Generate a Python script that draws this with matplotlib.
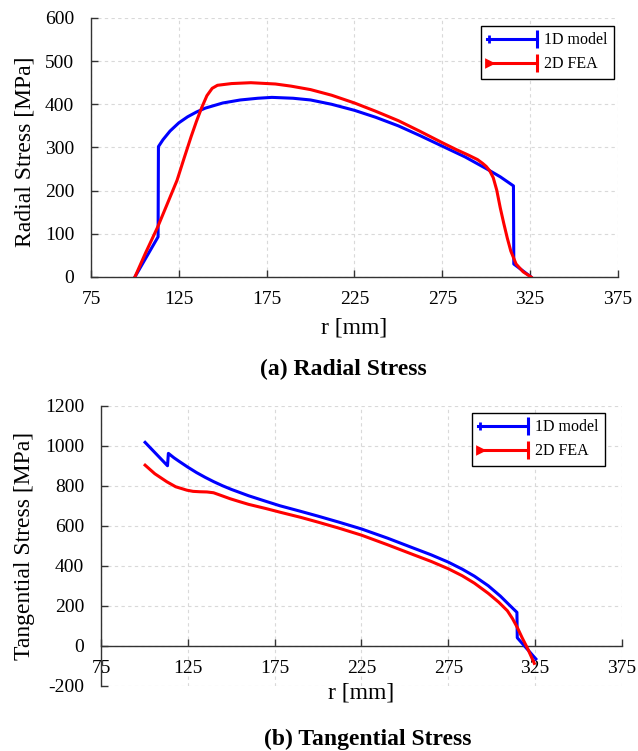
import matplotlib
matplotlib.use('Agg')
import matplotlib.pyplot as plt
from matplotlib.lines import Line2D
from matplotlib.legend_handler import HandlerBase

plt.rcParams['font.family'] = ['Liberation Serif', 'DejaVu Serif']
plt.rcParams['axes.unicode_minus'] = False

# (a) radial stress
r_rad_1d = [100, 113.2, 113.4, 116, 120, 125, 130, 135, 140, 150, 160, 170, 178, 190, 200, 212, 225, 237, 250,
            262, 275, 288, 300, 308, 315.5, 315.7, 325.5]
s_rad_1d = [0, 93, 302, 318, 338, 357, 371, 382, 391, 403, 410, 414, 416, 414, 410, 400, 386, 370, 350,
            328, 303, 278, 251, 232, 211, 30, 0]

r_rad_2d = [100, 106, 113, 118, 124, 128, 132, 135, 138, 141, 144, 147, 155, 166, 180, 189, 200, 212, 225, 237,
            250, 262, 275, 283, 290, 295, 298, 300, 302, 304, 306, 308, 310, 312, 314, 317, 321, 325.5]
s_rad_2d = [0, 55, 116, 165, 224, 275, 325, 360, 392, 420, 437, 444, 448, 450, 447, 442, 434, 421, 403, 384,
            362, 338, 311, 295, 282, 272, 263, 256, 246, 230, 201, 160, 124, 90, 60, 30, 12, 0]

# (b) tangential stress
r_tan_1d = [100.4, 113.3, 113.8, 117, 120, 125, 130, 135, 140, 145, 150, 160, 170, 178, 190, 200, 212, 225, 240,
            255, 265, 275, 283, 290, 298, 305, 310, 314.5, 314.7, 325.4]
s_tan_1d = [1017, 900, 962, 940, 922, 893, 866, 842, 820, 800, 782, 750, 722, 700, 672, 648, 618, 584, 538,
            488, 455, 418, 383, 348, 300, 248, 205, 167, 40, -66]

r_tan_2d = [100.4, 106, 112.9, 118, 124.4, 128, 132, 136, 139.8, 144, 149.4, 155, 160, 170, 178, 190, 200, 212,
            225, 240, 255, 265, 275, 283, 290, 298, 304, 309, 312, 314.8, 317.5, 320.6, 324.5]
s_tan_2d = [903, 860, 820, 795, 778, 772, 770, 769, 765, 752, 735, 720, 707, 686, 668, 642, 618, 588,
            553, 505, 455, 422, 385, 350, 313, 262, 218, 175, 135, 90, 40, -13, -88]

r_ticks = [75, 125, 175, 225, 275, 325, 375]
labels = ['1D model', '2D FEA']
colors = ['#0000ff', '#ff0000']


class CapHandler(HandlerBase):
    def __init__(self, left_marker, left_size):
        super().__init__()
        self.left_marker = left_marker
        self.left_size = left_size

    def create_artists(self, legend, orig_handle, xdescent, ydescent, width, height, fontsize, trans):
        c = orig_handle.get_color()
        y = height / 2 - ydescent
        x0, x1 = -xdescent, width - xdescent
        line = Line2D([x0, x1], [y, y], color=c, lw=2.2)
        left = Line2D([x0 + 1.5], [y], marker=self.left_marker, ms=self.left_size, mew=2.0, color=c)
        right = Line2D([x1], [y], marker='|', ms=13, mew=2.2, color=c)
        for a in (line, left, right):
            a.set_transform(trans)
        return [line, left, right]


def style_axes(ax, ylim, yticks):
    ax.set_xlim(75, 375)
    ax.set_ylim(*ylim)
    ax.set_xticks(r_ticks)
    ax.set_yticks(yticks)
    ax.spines['top'].set_visible(False)
    ax.spines['right'].set_visible(False)
    for s in ('left', 'bottom'):
        ax.spines[s].set_color('#333333')
        ax.spines[s].set_linewidth(1.0)
    ax.tick_params(direction='in', length=5, width=1, color='#333333', labelsize=14)
    ax.tick_params(axis='y', pad=12)
    ax.tick_params(axis='x', pad=10)
    ax.grid(True, linestyle=(0, (3, 3)), color='#d9d9d9', linewidth=0.8)
    ax.set_axisbelow(True)


fig = plt.figure(figsize=(6.38, 7.51), dpi=100)
ax1 = fig.add_axes([0.1426, 0.6312, 0.826, 0.3449])
ax2 = fig.add_axes([0.1583, 0.0869, 0.8166, 0.3728])

# radial
style_axes(ax1, (0, 600), range(0, 601, 100))
l1, = ax1.plot(r_rad_1d, s_rad_1d, color=colors[0], lw=2.2, zorder=3)
l2, = ax1.plot(r_rad_2d, s_rad_2d, color=colors[1], lw=2.2, zorder=4)
ax1.set_xlabel('r [mm]', fontsize=17)
ax1.xaxis.set_label_coords(0.5, -0.197)
ax1.xaxis.label.set_va('center')
ax1.set_ylabel('Radial Stress [MPa]', fontsize=17)
ax1.yaxis.set_label_coords(-0.125, 0.485)
ax1.yaxis.label.set_va('center')
ax1.legend([l1, l2], labels, loc='upper right', bbox_to_anchor=(0.962, 0.9654),
           bbox_transform=fig.transFigure, borderaxespad=0, fontsize=11.5,
           handlelength=3.1, handletextpad=0.45, fancybox=False, framealpha=1,
           edgecolor='black', handler_map={l1: CapHandler('|', 6), l2: CapHandler('>', 4.5)})

# tangential
style_axes(ax2, (-200, 1200), range(-200, 1201, 200))
ax2.spines['bottom'].set_position(('data', 0))
t1, = ax2.plot(r_tan_1d, s_tan_1d, color=colors[0], lw=2.2, zorder=3)
t2, = ax2.plot(r_tan_2d, s_tan_2d, color=colors[1], lw=2.2, zorder=4)
ax2.set_xlabel('r [mm]', fontsize=17)
ax2.xaxis.set_label_coords(0.5, -0.025)
ax2.xaxis.label.set_va('center')
ax2.set_ylabel('Tangential Stress [MPa]', fontsize=17)
ax2.yaxis.set_label_coords(-0.146, 0.5)
ax2.yaxis.label.set_va('center')
ax2.legend([t1, t2], labels, loc='upper right', bbox_to_anchor=(0.948, 0.450),
           bbox_transform=fig.transFigure, borderaxespad=0, fontsize=11.5,
           handlelength=3.1, handletextpad=0.45, fancybox=False, framealpha=1,
           edgecolor='black', handler_map={t1: CapHandler('|', 6), t2: CapHandler('>', 4.5)})

fig.text(0.5376, 1 - 369 / 751, '(a) Radial Stress', ha='center', va='center', fontsize=17, fontweight='bold')
fig.text(0.577, 1 - 739 / 751, '(b) Tangential Stress', ha='center', va='center', fontsize=17, fontweight='bold')

fig.savefig('out.png', dpi=100)
